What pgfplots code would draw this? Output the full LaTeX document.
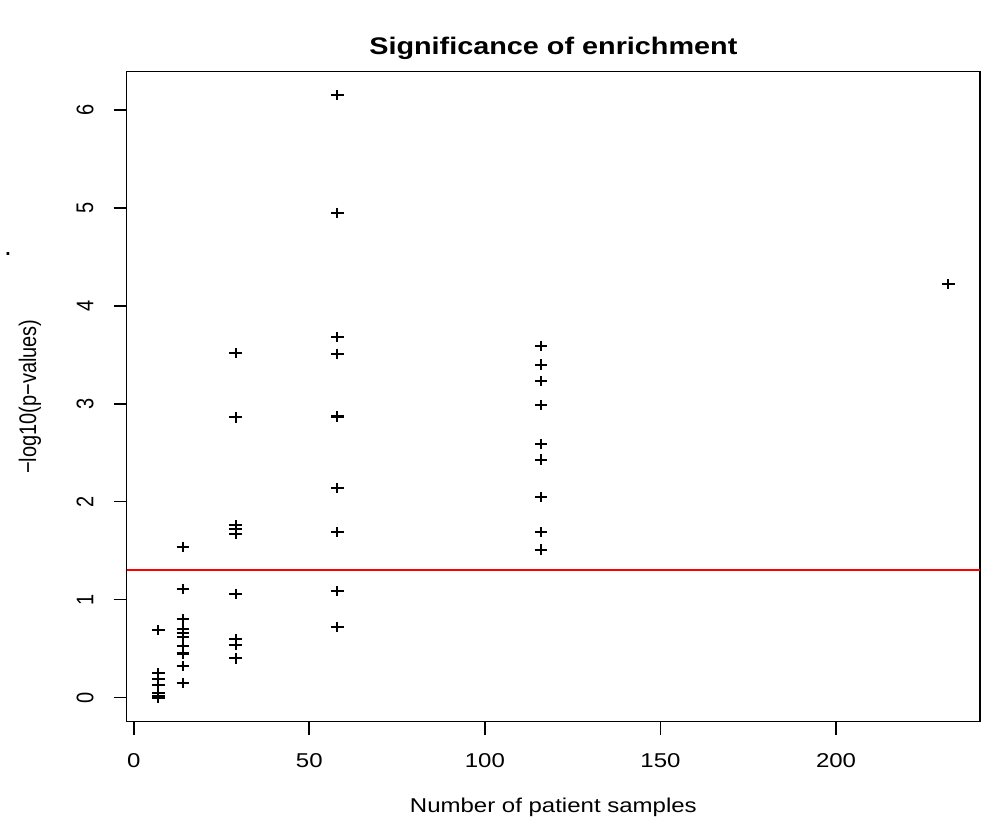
\documentclass[border=0pt]{standalone}
\usepackage{fontspec}
\setmainfont{Liberation Sans}
\newfontfamily\hfont[FakeStretch=1.2]{Liberation Sans}
\newfontfamily\vfont[FakeStretch=0.8333]{Liberation Sans}
\usepackage{pgfplots}
\pgfplotsset{compat=1.18}
\begin{document}
\begin{tikzpicture}
\begin{axis}[
  scale only axis, width=426.65pt, height=325pt,
  xmin=-2, xmax=241, ymin=-0.246, ymax=6.39,
  xtick={0,50,100,150,200}, ytick={0,1,2,3,4,5,6},
  xtick pos=lower, ytick pos=left,
  tick align=outside, major tick length=6.5pt,
  tick style={black, line width=0.8pt},
  axis line style={line width=0.8pt},
  /pgf/number format/assume math mode=true,
  xticklabel style={font=\hfont\fontsize{10}{12}\selectfont, anchor=center, yshift=-13pt},
  yticklabel style={font=\vfont\fontsize{12}{14}\selectfont, xshift=-14.35pt, rotate=90, anchor=center},
]
\addplot[red, line width=0.8pt, forget plot] coordinates {(-2,1.30103) (241,1.30103)};
\addplot[only marks, mark=+, mark size=2.6pt, black, mark options={xscale=1.2, line width=1.05pt}] table {
x y
7 0.69
7 0.25
7 0.19
7 0.13
7 0.05
7 0.02
7 0.01
7 0.00
14 1.54
14 1.11
14 0.80
14 0.70
14 0.66
14 0.62
14 0.53
14 0.45
14 0.32
14 0.15
29 3.52
29 2.86
29 1.76
29 1.72
29 1.67
29 1.06
29 0.60
29 0.54
29 0.40
58 6.15
58 4.95
58 3.68
58 3.51
58 2.87
58 2.14
58 1.69
58 1.09
58 0.72
116 3.59
116 3.40
116 3.23
116 2.99
116 2.59
116 2.43
116 2.05
116 1.69
116 1.51
232 4.22
};
\coordinate (SW) at (rel axis cs:0,0);
\coordinate (NE) at (rel axis cs:1,1);
\coordinate (T) at (rel axis cs:0.5,1);
\coordinate (B) at (rel axis cs:0.5,0);
\coordinate (L) at (rel axis cs:0,0.5);
\end{axis}
\node[anchor=base, font=\hfont\bfseries\fontsize{12}{14}\selectfont] at ([yshift=8.5pt]T) {Significance of enrichment};
\node[anchor=base, font=\hfont\fontsize{10}{12}\selectfont] at ([yshift=-45.5pt]B) {Number of patient samples};
\node[rotate=90, anchor=center, font=\vfont\fontsize{12}{14}\selectfont] at ([xshift=-48.35pt]L) {−log10(p−values)};
\node[anchor=center, inner sep=0pt, font=\fontsize{14}{16}\selectfont] at ([shift={(-59.35pt,234pt)}]SW) {.};
\pgfresetboundingbox
\path ([shift={(-63.35pt,-49.15pt)}]SW) rectangle ([shift={(3.5pt,35.85pt)}]NE);
\end{tikzpicture}
\end{document}
